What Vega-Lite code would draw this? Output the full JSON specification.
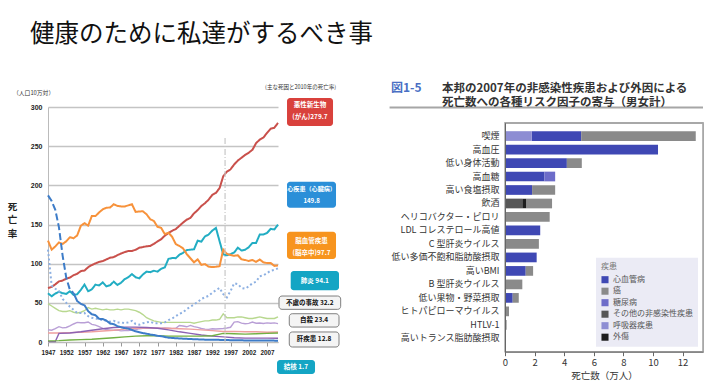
{
  "$schema": "https://vega.github.io/schema/vega-lite/v6.json",
  "background": "white",
  "padding": {"left": 7, "top": 22, "right": 0, "bottom": 4},
  "title": {"text": "健康のために私達がするべき事", "anchor": "start", "frame": "group", "dx": -18, "offset": 34, "fontSize": 24.5, "fontWeight": "normal", "font": "Noto Sans CJK JP", "color": "#111111"},
  "config": {"font": "Noto Sans CJK JP", "view": {"stroke": null}},
  "resolve": {"scale": {"color": "independent", "strokeDash": "independent"}, "legend": {"color": "independent"}},
  "datasets": {
    "deaths": [
      {"year":1947,"ca":69.0,"he":62.2,"st":129.4,"pn":118,"te":187.2,"ac":49,"su":15.7,"li":11.5,"hy":0.5,"di":1.5},
      {"year":1948,"ca":70.3,"he":58.4,"st":117.9,"pn":72,"te":179.9,"ac":46,"su":15.0},
      {"year":1949,"ca":73.6,"he":61.8,"st":122.0,"pn":68,"te":168.8,"ac":43,"su":17.0,"hy":0.5},
      {"year":1950,"ca":77.4,"he":64.2,"st":127.1,"pn":65,"te":146.4,"ac":40,"su":19.6,"li":11.5,"hy":11,"di":1.8},
      {"year":1951,"ca":78.5,"he":62.3,"st":125.2,"pn":55,"te":110.3,"ac":39,"su":18.0},
      {"year":1952,"ca":80.8,"he":61.4,"st":128.5,"pn":50,"te":82.2,"ac":39,"su":18.5},
      {"year":1953,"ca":82.2,"he":64.7,"st":133.7,"pn":45,"te":66.5,"ac":40,"su":20.5,"li":12,"hy":11.5,"di":2.5},
      {"year":1954,"ca":85.3,"he":60.2,"st":132.4,"pn":41,"te":62.4,"tb":62.4,"ac":38,"su":23.0},
      {"year":1955,"ca":87.1,"he":60.9,"st":136.1,"pn":37,"tb":52.3,"ac":37,"su":25.0},
      {"year":1956,"ca":90.5,"he":66.6,"st":148.4,"pn":37,"tb":48.6,"ac":38,"su":24.5,"li":12.5,"hy":13,"di":3},
      {"year":1957,"ca":91.3,"he":73.3,"st":151.7,"pn":37,"tb":46.9,"ac":40,"su":24.5},
      {"year":1958,"ca":95.5,"he":64.8,"st":148.6,"pn":33,"tb":39.4,"ac":44,"su":25.5},
      {"year":1959,"ca":98.2,"he":67.3,"st":160.7,"pn":31,"tb":35.4,"ac":42,"su":22.5,"li":13,"hy":15,"di":3.5},
      {"year":1960,"ca":100.4,"he":73.2,"st":160.7,"pn":30,"tb":34.2,"ac":43,"su":21.5},
      {"year":1961,"ca":102.3,"he":72.1,"st":165.4,"pn":29,"tb":29.6,"ac":42,"su":19.5},
      {"year":1962,"ca":103.2,"he":76.2,"st":169.4,"pn":28,"tb":29.3,"ac":41,"su":17.5,"li":14,"hy":17,"di":4.5},
      {"year":1963,"ca":105.5,"he":71.0,"st":171.4,"pn":27,"tb":27.3,"ac":42,"su":16.0},
      {"year":1964,"ca":107.5,"he":72.5,"st":171.7,"pn":26,"tb":23.6,"ac":41,"su":15.0},
      {"year":1965,"ca":108.4,"he":77.0,"st":175.8,"pn":27,"tb":22.8,"ac":41,"su":15.0,"li":15,"hy":18.5,"di":5.5},
      {"year":1966,"ca":110.8,"he":72.9,"st":173.8,"pn":25,"tb":20.3,"ac":42,"su":15.2},
      {"year":1967,"ca":113.0,"he":75.7,"st":173.1,"pn":25,"tb":19.0,"ac":41,"su":14.2},
      {"year":1968,"ca":114.7,"he":80.2,"st":173.1,"pn":24,"tb":17.8,"ac":42,"su":14.5,"li":16.5,"hy":19,"di":6.5},
      {"year":1969,"ca":116.2,"he":82.7,"st":174.4,"pn":25,"tb":17.0,"ac":42,"su":14.5},
      {"year":1970,"ca":116.3,"he":86.7,"st":175.8,"pn":27,"tb":15.4,"ac":41,"su":15.3},
      {"year":1971,"ca":117.7,"he":82.6,"st":166.1,"pn":23,"tb":13.6,"ac":40,"su":15.6,"li":17.5,"hy":19,"di":7.5},
      {"year":1972,"ca":120.4,"he":81.2,"st":166.7,"pn":22,"tb":12.4,"ac":38,"su":17.0},
      {"year":1973,"ca":121.2,"he":86.3,"st":166.8,"pn":24,"tb":11.4,"ac":35,"su":17.5},
      {"year":1974,"ca":122.2,"he":89.8,"st":163.0,"pn":25,"tb":10.6,"ac":31,"su":17.5,"li":18,"hy":18.5,"di":8},
      {"year":1975,"ca":122.6,"he":89.2,"st":156.7,"pn":26,"tb":9.5,"ac":29,"su":18.0},
      {"year":1976,"ca":125.3,"he":91.0,"st":154.5,"pn":24,"tb":8.9,"ac":27,"su":17.5},
      {"year":1977,"ca":128.4,"he":89.8,"st":147.0,"pn":24,"tb":7.9,"ac":26,"su":17.9,"li":17.5,"hy":17.5,"di":8},
      {"year":1978,"ca":131.3,"he":93.5,"st":145.7,"pn":24,"tb":7.4,"ac":25,"su":17.6},
      {"year":1979,"ca":135.7,"he":95.3,"st":137.7,"pn":25,"tb":6.5,"ac":25,"su":18.0},
      {"year":1980,"ca":139.1,"he":106.2,"st":139.5,"pn":28,"tb":5.5,"ac":25,"su":17.7,"li":17.5,"hy":15.5,"di":7.5},
      {"year":1981,"ca":142.0,"he":107.2,"st":134.3,"pn":30,"ac":25,"su":17.1},
      {"year":1982,"ca":144.2,"he":107.0,"st":125.0,"pn":33,"tb":4.8,"ac":25,"su":17.5},
      {"year":1983,"ca":148.3,"he":111.4,"st":122.6,"pn":36,"ac":25,"su":21.0,"li":17,"hy":13,"di":7.5},
      {"year":1984,"ca":152.5,"he":113.9,"st":119.5,"pn":38,"ac":25,"su":20.4},
      {"year":1985,"ca":156.1,"he":117.3,"st":112.2,"pn":42,"tb":4.0,"ac":25,"su":19.4},
      {"year":1986,"ca":158.5,"he":117.9,"st":106.9,"pn":45,"ac":25,"su":21.2,"li":16.5,"hy":11,"di":7.5},
      {"year":1987,"ca":164.2,"he":118.4,"st":101.7,"pn":48,"ac":24,"su":19.6},
      {"year":1988,"ca":168.4,"he":129.4,"st":105.5,"pn":51,"tb":3.4,"ac":25,"su":18.7},
      {"year":1989,"ca":173.6,"he":128.1,"st":98.5,"pn":55,"ac":26,"su":17.3,"li":15.5,"hy":9,"di":7.5},
      {"year":1990,"ca":177.2,"he":134.8,"st":99.4,"pn":57,"tb":3.0,"ac":27,"su":16.4},
      {"year":1991,"ca":181.7,"he":137.2,"st":96.2,"pn":59,"ac":27,"su":16.1},
      {"year":1992,"ca":187.8,"he":142.2,"st":95.6,"pn":63,"ac":28,"su":16.9,"li":14.5,"hy":7.5,"di":8},
      {"year":1993,"ca":190.4,"he":145.6,"st":96.0,"pn":66,"tb":2.8,"ac":28,"su":16.6},
      {"year":1994,"ca":196.4,"he":128.6,"st":96.9,"pn":69,"ac":29,"su":16.9},
      {"year":1995,"ca":211.6,"he":112.0,"st":117.9,"pn":61,"tb":2.6,"ac":36,"su":17.2,"li":13.5,"hy":6.5,"di":11},
      {"year":1996,"ca":217.5,"he":110.8,"st":112.6,"pn":57,"ac":31,"su":17.8},
      {"year":1997,"ca":220.4,"he":112.2,"st":111.0,"pn":65,"ac":31,"su":18.8},
      {"year":1998,"ca":226.7,"he":114.3,"st":110.0,"pn":75,"tb":2.2,"ac":31,"su":25.4,"li":13.5,"hy":5.5,"di":10.5},
      {"year":1999,"ca":231.6,"he":120.4,"st":110.8,"pn":74,"ac":32,"su":26.0},
      {"year":2000,"ca":235.2,"he":116.8,"st":105.5,"pn":69,"tb":2.1,"ac":32,"su":24.1},
      {"year":2001,"ca":238.8,"he":117.8,"st":104.7,"pn":68,"ac":31,"su":23.3,"li":13,"hy":5,"di":10},
      {"year":2002,"ca":241.7,"he":121.0,"st":103.4,"pn":71,"ac":30,"su":23.8},
      {"year":2003,"ca":245.4,"he":126.5,"st":104.7,"pn":75,"tb":1.9,"ac":30,"su":25.5},
      {"year":2004,"ca":253.9,"he":126.5,"st":102.3,"pn":77,"ac":31,"su":24.0,"li":13,"hy":5,"di":10.5},
      {"year":2005,"ca":258.3,"he":137.2,"st":105.3,"pn":84,"tb":1.8,"ac":32,"su":24.2},
      {"year":2006,"ca":261.0,"he":137.2,"st":101.7,"pn":85,"ac":31,"su":23.7},
      {"year":2007,"ca":266.9,"he":139.2,"st":100.8,"pn":88,"ac":30,"su":24.4,"li":12.5,"hy":4.9,"di":11},
      {"year":2008,"ca":272.3,"he":144.4,"st":100.9,"pn":91,"tb":1.8,"ac":30,"su":24.0},
      {"year":2009,"ca":273.5,"he":143.7,"st":97.2,"pn":92,"ac":30,"su":24.4},
      {"year":2010,"ca":279.7,"he":149.8,"st":97.7,"pn":94.1,"tb":1.7,"ac":32.2,"su":23.4,"li":12.8,"hy":4.7,"di":11.4}
    ],
    "risks": [
      {"factor":"喫煙","disease":"心血管病","deaths":3.34},
      {"factor":"喫煙","disease":"癌","deaths":7.74},
      {"factor":"喫煙","disease":"呼吸器疾患","deaths":1.81},
      {"factor":"高血圧","disease":"心血管病","deaths":10.34},
      {"factor":"低い身体活動","disease":"心血管病","deaths":4.18},
      {"factor":"低い身体活動","disease":"癌","deaths":1.01},
      {"factor":"高血糖","disease":"心血管病","deaths":2.66},
      {"factor":"高血糖","disease":"糖尿病","deaths":0.73},
      {"factor":"高い食塩摂取","disease":"心血管病","deaths":1.83},
      {"factor":"高い食塩摂取","disease":"癌","deaths":1.56},
      {"factor":"飲酒","disease":"癌","deaths":1.76},
      {"factor":"飲酒","disease":"その他の非感染性疾患","deaths":1.17},
      {"factor":"飲酒","disease":"外傷","deaths":0.25},
      {"factor":"ヘリコバクター・ピロリ","disease":"癌","deaths":3.02},
      {"factor":"LDL コレステロール高値","disease":"心血管病","deaths":2.38},
      {"factor":"C 型肝炎ウイルス","disease":"癌","deaths":2.29},
      {"factor":"低い多価不飽和脂肪酸摂取","disease":"心血管病","deaths":2.14},
      {"factor":"高いBMI","disease":"心血管病","deaths":1.40},
      {"factor":"高いBMI","disease":"癌","deaths":0.50},
      {"factor":"B 型肝炎ウイルス","disease":"癌","deaths":1.17},
      {"factor":"低い果物・野菜摂取","disease":"心血管病","deaths":0.52},
      {"factor":"低い果物・野菜摂取","disease":"癌","deaths":0.41},
      {"factor":"ヒトパピローマウイルス","disease":"癌","deaths":0.27},
      {"factor":"HTLV-1","disease":"癌","deaths":0.11},
      {"factor":"高いトランス脂肪酸摂取","disease":"心血管病","deaths":0.03}
    ]
  },
  "bounds": "flush",
  "spacing": 227,
  "hconcat": [
    {
      "width": 230,
      "height": 235,
      "resolve": {"scale": {"color": "independent", "strokeDash": "independent"}},
      "layer": [
        {
          "data": {"name": "deaths"},
          "transform": [{"fold": ["ac","su","li","hy","di"], "as": ["cause","rate"]}, {"filter": "isValid(datum.rate)"}],
          "mark": {"type": "line", "strokeWidth": 1.4},
          "encoding": {
            "x": {"field": "year", "type": "quantitative", "scale": {"domain": [1947, 2010], "nice": false, "zero": false},
              "axis": {"title": null, "values": [1947,1952,1957,1962,1967,1972,1977,1982,1987,1992,1997,2002,2007], "format": "d", "grid": false, "labelFont": "Liberation Sans Narrow, Liberation Sans, sans-serif", "labelFontWeight": "bold", "labelFontSize": 6.3, "labelColor": "#222222", "labelPadding": 3, "tickSize": 4, "tickColor": "#999999", "domainColor": "#bbbbbb", "labelFlush": false, "labelOverlap": false}},
            "y": {"field": "rate", "type": "quantitative", "scale": {"domain": [0, 300], "nice": false},
              "axis": {"title": ["死", "亡", "率"], "titleAngle": 0, "titleX": -36, "titleY": 99, "titleAlign": "center", "titleBaseline": "middle", "titleFontSize": 9.5, "titleFontWeight": "bold", "titleLineHeight": 13.5, "titleColor": "#222222", "values": [0,50,100,150,200,250,300], "grid": true, "gridColor": "#c4c4c4", "gridWidth": 1.3, "ticks": false, "labelPadding": 6, "labelFont": "Liberation Sans Narrow, Liberation Sans, sans-serif", "labelFontWeight": "bold", "labelFontSize": 7, "labelColor": "#222222", "domainColor": "#bbbbbb", "labelOverlap": false}},
            "color": {"field": "cause", "type": "nominal", "scale": {"domain": ["ac","su","li","hy","di"], "range": ["#b8d88f","#b99fd6","#ee9f9f","#8c62b3","#72b043"]}, "legend": null}
          }
        },
        {
          "data": {"name": "deaths"},
          "transform": [{"fold": ["ca","he","st","pn","te","tb"], "as": ["cause","rate"]}, {"filter": "isValid(datum.rate)"}],
          "mark": {"type": "line", "strokeWidth": 2},
          "encoding": {
            "x": {"field": "year", "type": "quantitative",
              "axis": {"title": null, "values": [1947,1952,1957,1962,1967,1972,1977,1982,1987,1992,1997,2002,2007], "format": "d", "grid": false, "labelFont": "Liberation Sans Narrow, Liberation Sans, sans-serif", "labelFontWeight": "bold", "labelFontSize": 6.3, "labelColor": "#222222", "labelPadding": 3, "tickSize": 4, "tickColor": "#999999", "domainColor": "#bbbbbb", "labelFlush": false, "labelOverlap": false}},
            "y": {"field": "rate", "type": "quantitative",
              "axis": {"title": ["死", "亡", "率"], "titleAngle": 0, "titleX": -36, "titleY": 99, "titleAlign": "center", "titleBaseline": "middle", "titleFontSize": 9.5, "titleFontWeight": "bold", "titleLineHeight": 13.5, "titleColor": "#222222", "values": [0,50,100,150,200,250,300], "grid": true, "gridColor": "#c4c4c4", "gridWidth": 1.3, "ticks": false, "labelPadding": 6, "labelFont": "Liberation Sans Narrow, Liberation Sans, sans-serif", "labelFontWeight": "bold", "labelFontSize": 7, "labelColor": "#222222", "domainColor": "#bbbbbb", "labelOverlap": false}},
            "color": {"field": "cause", "type": "nominal", "scale": {"domain": ["ca","he","st","pn","te","tb"], "range": ["#c9504b","#22adc3","#f7923b","#8db0e2","#3d7cc8","#3d7cc8"]}, "legend": null},
            "strokeDash": {"field": "cause", "type": "nominal", "scale": {"domain": ["ca","he","st","pn","te","tb"], "range": [[1,0],[1,0],[1,0],[2,2.5],[7,3],[1,0]]}, "legend": null}
          }
        },
        {
          "data": {"values": [{"n": 1}]},
          "layer": [
            {"mark": {"type": "rule", "color": "#c8c8c8", "strokeDash": [6,2,1,2], "strokeWidth": 1.2}, "encoding": {"x": {"datum": 1995.5}, "y": {"datum": 0}, "y2": {"datum": 262}}},
            {"mark": {"type": "text", "text": "（人口10万対）", "fontSize": 5.8, "color": "#333333", "align": "left", "baseline": "middle", "dx": -35, "dy": -14}, "encoding": {"x": {"datum": 1947}, "y": {"datum": 300}}},
            {"mark": {"type": "text", "text": "(主な死因と2010年の死亡率)", "fontSize": 5.5, "color": "#333333", "align": "right", "baseline": "middle", "dx": 58, "dy": -20}, "encoding": {"x": {"datum": 2010}, "y": {"datum": 300}}},
            {"mark": {"type": "rect", "cornerRadius": 3, "fill": "#d9413c"}, "encoding": {"x": {"datum": 2012.47}, "x2": {"datum": 2025.07}, "y": {"datum": 311.5}, "y2": {"datum": 275.7}}},
            {"mark": {"type": "text", "text": ["悪性新生物", "(がん)279.7"], "color": "white", "fontWeight": "bold", "fontSize": 6.5, "lineHeight": 11.7, "align": "center", "baseline": "middle"}, "encoding": {"x": {"datum": 2018.77}, "y": {"datum": 302.1}}},
            {"mark": {"type": "rect", "cornerRadius": 3, "fill": "#2b8fd8"}, "encoding": {"x": {"datum": 2012.47}, "x2": {"datum": 2025.89}, "y": {"datum": 204.6}, "y2": {"datum": 171.4}}},
            {"mark": {"type": "text", "text": ["心疾患（心臓病）", "149.8"], "color": "white", "fontWeight": "bold", "fontSize": 6.1, "lineHeight": 11.7, "align": "center", "baseline": "middle"}, "encoding": {"x": {"datum": 2019.2}, "y": {"datum": 194.9}}},
            {"mark": {"type": "rect", "cornerRadius": 3, "fill": "#f7941e"}, "encoding": {"x": {"datum": 2012.47}, "x2": {"datum": 2025.89}, "y": {"datum": 140.8}, "y2": {"datum": 106.0}}},
            {"mark": {"type": "text", "text": ["脳血管疾患", "(脳卒中)97.7"], "color": "white", "fontWeight": "bold", "fontSize": 6.5, "lineHeight": 11.7, "align": "center", "baseline": "middle"}, "encoding": {"x": {"datum": 2019.2}, "y": {"datum": 128.9}}},
            {"mark": {"type": "rect", "cornerRadius": 3, "fill": "#14a5c4"}, "encoding": {"x": {"datum": 2013.48}, "x2": {"datum": 2026.71}, "y": {"datum": 90.6}, "y2": {"datum": 66.0}}},
            {"mark": {"type": "text", "text": "肺炎  94.1", "color": "white", "fontWeight": "bold", "fontSize": 6.5, "align": "center", "baseline": "middle"}, "encoding": {"x": {"datum": 2020.1}, "y": {"datum": 78.3}}},
            {"mark": {"type": "rect", "cornerRadius": 3, "fill": "#f4f4f4", "stroke": "#7f7f7f", "strokeWidth": 1}, "encoding": {"x": {"datum": 2010.27}, "x2": {"datum": 2027.17}, "y": {"datum": 58.7}, "y2": {"datum": 41.7}}},
            {"mark": {"type": "text", "text": "不慮の事故 32.2", "color": "#111111", "fontWeight": "bold", "fontSize": 6.5, "align": "center", "baseline": "middle"}, "encoding": {"x": {"datum": 2018.7}, "y": {"datum": 50.2}}},
            {"mark": {"type": "rect", "cornerRadius": 3, "fill": "#f4f4f4", "stroke": "#7f7f7f", "strokeWidth": 1}, "encoding": {"x": {"datum": 2013.09}, "x2": {"datum": 2026.71}, "y": {"datum": 36.1}, "y2": {"datum": 19.1}}},
            {"mark": {"type": "text", "text": "自殺  23.4", "color": "#111111", "fontWeight": "bold", "fontSize": 6.5, "align": "center", "baseline": "middle"}, "encoding": {"x": {"datum": 2019.9}, "y": {"datum": 27.6}}},
            {"mark": {"type": "rect", "cornerRadius": 3, "fill": "#f4f4f4", "stroke": "#7f7f7f", "strokeWidth": 1}, "encoding": {"x": {"datum": 2013.09}, "x2": {"datum": 2026.71}, "y": {"datum": 12.8}, "y2": {"datum": -6.4}}},
            {"mark": {"type": "text", "text": "肝疾患  12.8", "color": "#111111", "fontWeight": "bold", "fontSize": 6.5, "align": "center", "baseline": "middle"}, "encoding": {"x": {"datum": 2019.9}, "y": {"datum": 3.2}}},
            {"mark": {"type": "rect", "cornerRadius": 3, "fill": "#14a5c4"}, "encoding": {"x": {"datum": 2009.73}, "x2": {"datum": 2020.14}, "y": {"datum": -23.0}, "y2": {"datum": -40.9}}},
            {"mark": {"type": "text", "text": "結核  1.7", "color": "white", "fontWeight": "bold", "fontSize": 6.5, "align": "center", "baseline": "middle"}, "encoding": {"x": {"datum": 2014.9}, "y": {"datum": -31.9}}}
          ],
          "encoding": {
            "x": {"type": "quantitative",
              "axis": {"title": null, "values": [1947,1952,1957,1962,1967,1972,1977,1982,1987,1992,1997,2002,2007], "format": "d", "grid": false, "labelFont": "Liberation Sans Narrow, Liberation Sans, sans-serif", "labelFontWeight": "bold", "labelFontSize": 6.3, "labelColor": "#222222", "labelPadding": 3, "tickSize": 4, "tickColor": "#999999", "domainColor": "#bbbbbb", "labelFlush": false, "labelOverlap": false}},
            "y": {"type": "quantitative",
              "axis": {"title": ["死", "亡", "率"], "titleAngle": 0, "titleX": -36, "titleY": 99, "titleAlign": "center", "titleBaseline": "middle", "titleFontSize": 9.5, "titleFontWeight": "bold", "titleLineHeight": 13.5, "titleColor": "#222222", "values": [0,50,100,150,200,250,300], "grid": true, "gridColor": "#c4c4c4", "gridWidth": 1.3, "ticks": false, "labelPadding": 6, "labelFont": "Liberation Sans Narrow, Liberation Sans, sans-serif", "labelFontWeight": "bold", "labelFontSize": 7, "labelColor": "#222222", "domainColor": "#bbbbbb", "labelOverlap": false}}
          }
        }
      ]
    },
    {
      "bounds": "flush",
      "spacing": 14.7,
      "resolve": {"scale": {"color": "independent"}, "legend": {"color": "independent"}},
      "vconcat": [
        {
          "width": 198,
          "height": 1,
          "data": {"values": [{"n": 1}]},
          "title": {"text": "図1-5", "anchor": "start", "frame": "group", "dx": -114, "offset": 12, "fontSize": 12, "fontWeight": "bold", "color": "#4a6fc4"},
          "mark": {"type": "rule", "color": "#a6a6a6", "strokeWidth": 2},
          "encoding": {
            "x": {"datum": -7.8, "type": "quantitative", "scale": {"domain": [0, 13.38], "nice": false}, "axis": null},
            "x2": {"datum": 13.38}
          }
        },
        {
          "width": 198,
          "height": 229,
          "data": {"name": "risks"},
          "view": {"stroke": "#a8a8a8", "strokeWidth": 1.5},
          "title": {"text": ["本邦の2007年の非感染性疾患および外因による", "死亡数への各種リスク因子の寄与（男女計）"], "anchor": "start", "frame": "group", "dx": -63, "offset": 14, "fontSize": 11.5, "fontWeight": "bold", "color": "#333333", "lineHeight": 14.3},
          "resolve": {"scale": {"x": "independent", "y": "independent"}, "axis": {"x": "independent", "y": "independent"}},
          "layer": [
            {
              "mark": {"type": "bar"},
              "encoding": {
                "y": {"field": "factor", "type": "nominal", "title": null,
                  "sort": ["喫煙","高血圧","低い身体活動","高血糖","高い食塩摂取","飲酒","ヘリコバクター・ピロリ","LDL コレステロール高値","C 型肝炎ウイルス","低い多価不飽和脂肪酸摂取","高いBMI","B 型肝炎ウイルス","低い果物・野菜摂取","ヒトパピローマウイルス","HTLV-1","高いトランス脂肪酸摂取"],
                  "scale": {"paddingInner": 0.28, "paddingOuter": 0.63},
                  "axis": {"ticks": false, "domainColor": "#666666", "labelFontSize": 9, "labelColor": "#333333", "labelPadding": 6, "labelLimit": 200, "zindex": 1}},
                "x": {"field": "deaths", "type": "quantitative", "stack": "zero", "scale": {"domain": [0, 13.38], "nice": false},
                  "axis": {"values": [0,2,4,6,8,10,12], "grid": false, "title": "死亡数（万人）", "titleFontSize": 9.5, "titleFontWeight": "normal", "titleColor": "#333333", "titlePadding": 3, "labelFontSize": 9.5, "labelColor": "#333333", "tickColor": "#666666", "tickSize": 4, "domainColor": "#666666", "labelFlush": false, "zindex": 1}},
                "color": {"field": "disease", "type": "nominal",
                  "sort": ["心血管病","癌","糖尿病","その他の非感染性疾患","呼吸器疾患","外傷"],
                  "scale": {"domain": ["心血管病","癌","糖尿病","その他の非感染性疾患","呼吸器疾患","外傷"], "range": ["#3f48b4","#8a8a8a","#6d6cc9","#575757","#8d8dd3","#1e1e1e"]},
                  "legend": {"title": "疾患", "orient": "bottom-right", "offset": 5, "fillColor": "#ebebf5", "padding": 5, "titleFontSize": 8, "titleColor": "#777777", "titleFontWeight": "normal", "labelFontSize": 8, "labelColor": "#555555", "symbolType": "square", "symbolSize": 50, "symbolStrokeWidth": 0, "rowPadding": 3.5, "symbolOpacity": 1}}
              }
            },
            {
              "mark": {"type": "bar", "opacity": 0},
              "encoding": {
                "y": {"field": "factor", "type": "nominal", "title": null,
                  "axis": {"orient": "right", "labels": false, "ticks": false, "title": null, "domainColor": "#a8a8a8", "domainWidth": 1.5}},
                "x": {"field": "deaths", "type": "quantitative", "stack": "zero", "scale": {"domain": [0, 13.38], "nice": false},
                  "axis": {"orient": "top", "labels": false, "ticks": false, "title": null, "grid": false, "domainColor": "#a8a8a8", "domainWidth": 1.5}}
              }
            }
          ]
        }
      ]
    }
  ]
}
